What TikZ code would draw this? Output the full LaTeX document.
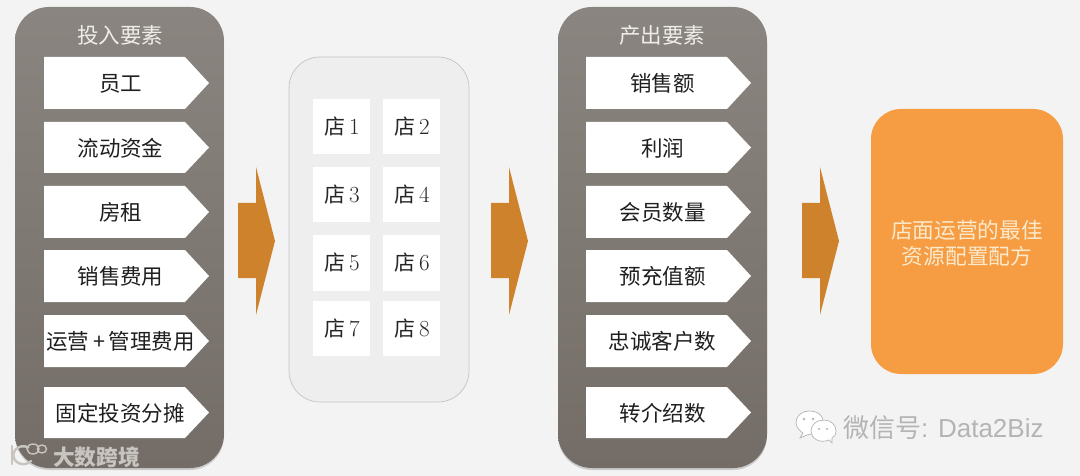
\documentclass[tikz,border=0pt]{standalone}
\usepackage{fontspec}
\newfontfamily\cjk{Noto Sans CJK SC}
\newfontfamily\sansf{Liberation Sans}
\definecolor{bgc}{HTML}{F3F3F3}
\definecolor{paneltop}{HTML}{8A8580}
\definecolor{panelbot}{HTML}{746D67}
\definecolor{midfill}{HTML}{EEEEEE}
\definecolor{midline}{HTML}{C4C4C4}
\definecolor{arrowc}{HTML}{CF822C}
\definecolor{orangec}{HTML}{F69D43}
\definecolor{creamc}{HTML}{FBE9CC}
\definecolor{headc}{HTML}{EFEDEA}
\definecolor{markc}{HTML}{C8C4C0}
\definecolor{markd}{HTML}{B4B4B4}
\tikzset{
  panelbox/.style={rectangle,rounded corners=34pt,inner sep=0pt,top color=paneltop,bottom color=panelbot,draw=none,
    minimum width=209pt,minimum height=461pt},
  penta/.style={fill=white,draw=none},
  pentatext/.style={inner sep=0pt,text=black!88,font=\cjk\fontsize{21.5}{26}\selectfont},
  headtext/.style={inner sep=0pt,text=headc,font=\cjk\fontsize{21.5}{26}\selectfont},
  midbox/.style={rectangle,rounded corners=31pt,inner sep=0pt,fill=midfill,draw=midline,line width=.7pt,
    minimum width=180pt,minimum height=345pt},
  shopbox/.style={rectangle,inner sep=0pt,fill=white,draw=none,minimum width=57pt,minimum height=55pt,
    text=black!85,font=\fontsize{21}{25}\selectfont},
  bigarrow/.style={fill=arrowc,draw=none},
  resultbox/.style={rectangle,rounded corners=30pt,inner sep=0pt,fill=orangec,draw=none,
    minimum width=192pt,minimum height=265pt},
  resulttext/.style={inner sep=0pt,align=center,text=creamc,font=\cjk\fontsize{21.7}{26}\selectfont},
  softshadow/.style={fill=black,opacity=.16,draw=none},
  marktext/.style={inner sep=0pt,anchor=west},
}
\newcommand{\pentagon}[6]{% name, left x, top, bottom, text, y-centre
  \path[penta] (#2,#3) -- ({#2+141},#3) -- ({#2+165},#6) -- ({#2+141},#4) -- (#2,#4) -- cycle;
  \node[pentatext] (#1) at ({#2+76.5},{#6+.5}) {#5};
}
\newcommand{\fatarrow}[2]{% name, left x
  \path[bigarrow] (#2,203) -- ({#2+18},203) -- ({#2+18},167) -- ({#2+37},241) -- ({#2+18},315) -- ({#2+18},278) -- (#2,278) -- cycle;
  \coordinate (#1) at ({#2+18},241);
}
\newcommand{\shop}[4]{\node[shopbox] (#1) at (#2,#3) {\hspace{1pt}{\cjk 店}{\fontsize{23}{25}\selectfont\,#4}};}
\begin{document}
\begin{tikzpicture}[x=1pt,y=-1pt]
\useasboundingbox (0,0) rectangle (1080,476);
\fill[bgc] (0,0) rectangle (1080,476);

% left panel
\node[rectangle,rounded corners=34pt,minimum width=209pt,minimum height=461pt,inner sep=0pt,softshadow] (leftshade) at (119.5,239.5) {};
\node[panelbox] (leftpanel) at (119.5,237.5) {};
\node[headtext] (lefthead) at (120,35) {投入要素};
\pentagon{l1}{44}{57}{109}{员工}{83}
\pentagon{l2}{44}{122}{173}{流动资金}{147.5}
\pentagon{l3}{44}{186}{238}{房租}{212}
\pentagon{l4}{44}{250}{302}{销售费用}{276}
\pentagon{l5}{44}{315}{367}{运营\,+\,管理费用}{341}
\pentagon{l6}{44}{387}{438}{固定投资分摊}{412.5}

% arrows
\fatarrow{a1}{238}
\fatarrow{a2}{491}
\fatarrow{a3}{802}

% middle panel
\node[midbox] (midpanel) at (379,229.5) {};
\shop{s1}{341.5}{126.5}{1}
\shop{s2}{411.5}{126.5}{2}
\shop{s3}{341.5}{194.5}{3}
\shop{s4}{411.5}{194.5}{4}
\shop{s5}{341.5}{263}{5}
\shop{s6}{411.5}{263}{6}
\shop{s7}{341.5}{328.5}{7}
\shop{s8}{411.5}{328.5}{8}

% right panel
\node[rectangle,rounded corners=34pt,minimum width=209pt,minimum height=461pt,inner sep=0pt,softshadow] (rightshade) at (662.5,239.5) {};
\node[panelbox] (rightpanel) at (662.5,237.5) {};
\node[headtext] (righthead) at (662,35) {产出要素};
\pentagon{r1}{586}{57}{109}{销售额}{83}
\pentagon{r2}{586}{122}{173}{利润}{147.5}
\pentagon{r3}{586}{186}{238}{会员数量}{212}
\pentagon{r4}{586}{250}{302}{预充值额}{276}
\pentagon{r5}{586}{315}{367}{忠诚客户数}{341}
\pentagon{r6}{586}{387}{438}{转介绍数}{412.5}

% result
\node[resultbox] (result) at (967,241.5) {};
\node[resulttext] (resultlabel) at (967,243.5) {店面运营的最佳\\资源配置配方};

% logo watermark, lower left
\begin{scope}[draw=markc,line width=2.4pt,line cap=round]
  \draw (12,446) -- (12,464);
  \draw (31,461) arc[start angle=40,end angle=300,x radius=10,y radius=9];
  \draw[line width=1.4pt] (33,449) ellipse[x radius=6,y radius=5];
  \draw[line width=1.4pt] (42,449) ellipse[x radius=4.5,y radius=4];
\end{scope}
\node[marktext,text=markc,font=\cjk\bfseries\fontsize{21.7}{26}\selectfont] (mark1) at (53,457) {大数跨境};

% WeChat watermark
\begin{scope}[fill=white,draw=markd,line width=.7pt]
  \filldraw (800,438) -- (803,433) .. controls (790,425) and (797,411) .. (809,411)
     .. controls (819,411) and (825,417) .. (823,426) .. controls (818,430) and (812,435) .. (807,435) -- cycle;
  \filldraw (832,443) -- (829,440) .. controls (819,444) and (811,438) .. (811,431)
     .. controls (811,424) and (817,420) .. (824,420) .. controls (831,420) and (836,425) .. (836,431)
     .. controls (836,435) and (834,437) .. (832,438) -- cycle;
\end{scope}
\fill[markd] (804,419) circle[radius=1.3] (813,419) circle[radius=1.3] (819,429) circle[radius=1.1] (827,429) circle[radius=1.1];
\node[marktext,text=markd,font=\fontsize{26}{30}\selectfont] (mark2) at (843,428) {{\cjk 微信号}{\sansf : Data2Biz}};
\end{tikzpicture}
\end{document}
